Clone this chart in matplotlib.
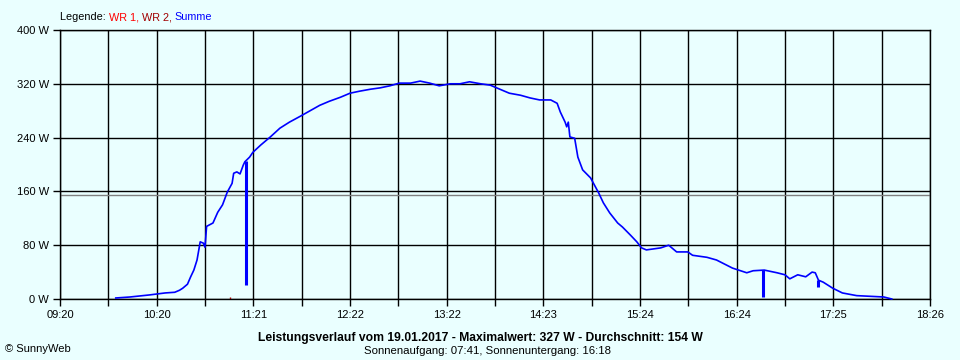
import numpy as np
import matplotlib
matplotlib.use("Agg")
import matplotlib.pyplot as plt

# Summe (blue) - time of day and power in W
times = ["09:55", "10:04", "10:16", "10:26", "10:32", "10:35", "10:37", "10:40", "10:42", "10:44",
         "10:46", "10:48", "10:50", "10:51", "10:52", "10:56", "10:59", "11:02", "11:05", "11:08",
         "11:09", "11:11", "11:13", "11:15", "11:16", "11:19", "11:21", "11:26", "11:32", "11:38",
         "11:44", "11:51", "11:57", "12:03", "12:09", "12:16", "12:22", "12:28", "12:35", "12:41",
         "12:47", "12:53", "13:00", "13:06", "13:12", "13:18", "13:25", "13:31", "13:37", "13:44",
         "13:50", "13:56", "14:02", "14:09", "14:15", "14:21", "14:28", "14:32", "14:34", "14:37",
         "14:38", "14:39", "14:40", "14:43", "14:45", "14:48", "14:53", "14:58", "15:01", "15:05",
         "15:10", "15:13", "15:18", "15:22", "15:25", "15:28", "15:37", "15:42", "15:47", "15:54",
         "15:57", "16:06", "16:12", "16:22", "16:31", "16:35", "16:42", "16:50", "16:55", "16:58",
         "17:03", "17:08", "17:12", "17:14", "17:16", "17:19", "17:25", "17:31", "17:40", "17:57",
         "18:02"]
summe = [1.5, 3, 6, 9, 10, 13, 16, 22, 33, 43,
         58, 85, 83, 77, 108, 113, 129, 140, 159, 172,
         187, 189, 186, 199, 204, 211, 218, 229, 241, 254,
         263, 272, 280, 288, 294, 300, 306, 309, 312, 314,
         317, 321, 321, 324, 321, 317, 320, 320, 323, 320,
         318, 312, 306, 303, 299, 296, 296, 291, 278, 263,
         256, 263, 241, 239, 211, 192, 180, 158, 143, 128,
         113, 107, 95, 85, 76, 73, 76, 80, 70, 70,
         65, 62, 58, 46, 39, 42, 43, 39, 36, 30,
         36, 33, 40, 39, 28, 25, 16, 9, 5, 3,
         0]

# short drop-outs of the sum
dip_times = ["11:17", "16:41", "17:16"]
dip_top = [205, 43, 28]
dip_low = [21, 3, 18]

# WR 2 (dark red) small blip
wr2_times = ["11:07"]
wr2_vals = [3]

avg = 154
start = "09:20"
n_grid = 18
tick_labels = ["09:20", "10:20", "11:21", "12:22", "13:22", "14:23", "15:24", "16:24", "17:25", "18:26"]
y_ticks = [0, 80, 160, 240, 320, 400]


def to_min(t):
    h, m = t.split(":")
    return int(h) * 60 + int(m) - (int(start[:2]) * 60 + int(start[3:]))


bg = "#EAFFFF"
span = 546

plt.rcParams['font.family'] = ['Liberation Sans', 'DejaVu Sans']
fig = plt.figure(figsize=(9.6, 3.6), dpi=100, facecolor=bg)
ax = fig.add_axes([60 / 960, 1 - 299 / 360, 870 / 960, 269 / 360], facecolor=bg)

ax.set_xlim(0, span)
ax.set_ylim(0, 400)
xt = np.linspace(0, span, n_grid + 1)
ax.set_xticks(xt)
ax.set_xticklabels([tick_labels[i // 2] if i % 2 == 0 else "" for i in range(n_grid + 1)], fontsize=8)
ax.set_yticks(y_ticks)
ax.set_yticklabels([f"{v} W" for v in y_ticks], fontsize=8)
ax.tick_params(direction='out', length=5, width=1, color='black', pad=3)
ax.grid(True, color='black', lw=1)
ax.set_axisbelow(True)
for s in ax.spines.values():
    s.set_color('black')
    s.set_linewidth(1)

ax.axhline(avg, color='#808080', lw=1, zorder=1.5)

x = [to_min(t) for t in times]
ax.plot(x, summe, color='#0000FF', lw=1.2, zorder=3, clip_on=False)
ax.vlines([to_min(t) for t in dip_times], dip_low, dip_top, color='#0000FF', lw=2.2, zorder=3)
ax.vlines([to_min(t) for t in wr2_times], 0, wr2_vals, color='#A00000', lw=1, zorder=3)

# legend line at top left
fig.canvas.draw()
r = fig.canvas.get_renderer()
xpos = 60 / 960
parts = [("Legende: ", "black"), ("WR 1, ", "#FF0000"), ("WR 2, ", "#A00000"), ("Summe", "#0000FF")]
for txt, col in parts:
    t = fig.text(xpos, 1 - 17 / 360, txt, color=col, fontsize=7.8, va='center', ha='left')
    bb = t.get_window_extent(renderer=r)
    xpos += bb.width / 960

fig.text(480 / 960, 1 - 338 / 360,
         "Leistungsverlauf vom 19.01.2017 - Maximalwert: 327 W - Durchschnitt: 154 W",
         fontsize=8.7, fontweight='bold', ha='center', va='center')
fig.text(487 / 960, 1 - 351 / 360, "Sonnenaufgang: 07:41, Sonnenuntergang: 16:18",
         fontsize=8.2, ha='center', va='center')
fig.text(5 / 960, 1 - 349 / 360, "© SunnyWeb", fontsize=8, ha='left', va='center')

fig.savefig("out.png", dpi=100, facecolor=bg)
